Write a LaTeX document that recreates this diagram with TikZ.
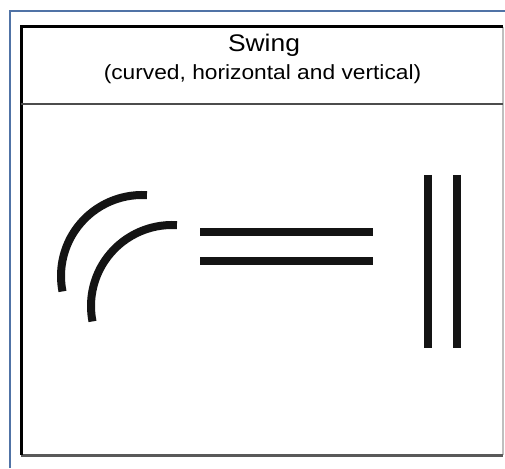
\documentclass[tikz,border=0pt]{standalone}
\usepackage{fontspec}
\setmainfont{Liberation Sans}
\definecolor{frameblue}{HTML}{5073A6}
\begin{document}
\begin{tikzpicture}[x=1pt,y=1pt,
  symline/.style={line width=8pt,color=black!92},
  vline/.style={line width=8.5pt,color=black!92},
  lbl/.style={inner sep=0pt,anchor=base}]
\useasboundingbox (0,0) rectangle (505,468);
\fill[white] (0,0) rectangle (505,468);
% outer blue frame
\coordinate (b1) at (9.5,0);
\coordinate (b2) at (9.5,457);
\coordinate (b3) at (505,457);
\draw[frameblue,line width=2pt] (b1) -- (b2) -- (b3);
% inner box
\coordinate (tl) at (21,441);
\coordinate (tr) at (503,441);
\coordinate (bl) at (21,13);
\coordinate (br) at (503,13);
\draw[black!25,line width=1.5pt] (tr) -- (br);
\draw[black!65,line width=3pt] (bl) -- (br);
\draw[black,line width=3pt] (bl) -- (tl) -- (tr);
% divider
\coordinate (dl) at (21,364);
\coordinate (dr) at (503,364);
\draw[black!70,line width=2pt] (dl) -- (dr);
% titles
\node[lbl] (title) at (264,416) {\scalebox{1.1}[1]{\fontsize{24}{28}\selectfont Swing}};
\node[lbl] (subtitle) at (262.5,388) {\scalebox{1.11}[1]{\fontsize{20.5}{24}\selectfont (curved, horizontal and vertical)}};
% curved
\draw[symline] (142,192) ++(86.5:81) arc[start angle=86.5,end angle=191,radius=81];
\draw[symline] (172,162) ++(86.5:81) arc[start angle=86.5,end angle=191,radius=81];
% horizontal
\coordinate (h1a) at (200,236); \coordinate (h1b) at (373,236);
\coordinate (h2a) at (200,207); \coordinate (h2b) at (373,207);
\draw[symline] (h1a) -- (h1b);
\draw[symline] (h2a) -- (h2b);
% vertical
\coordinate (v1a) at (428,293); \coordinate (v1b) at (428,120);
\coordinate (v2a) at (457,293); \coordinate (v2b) at (457,120);
\draw[vline] (v1a) -- (v1b);
\draw[vline] (v2a) -- (v2b);
\end{tikzpicture}
\end{document}
